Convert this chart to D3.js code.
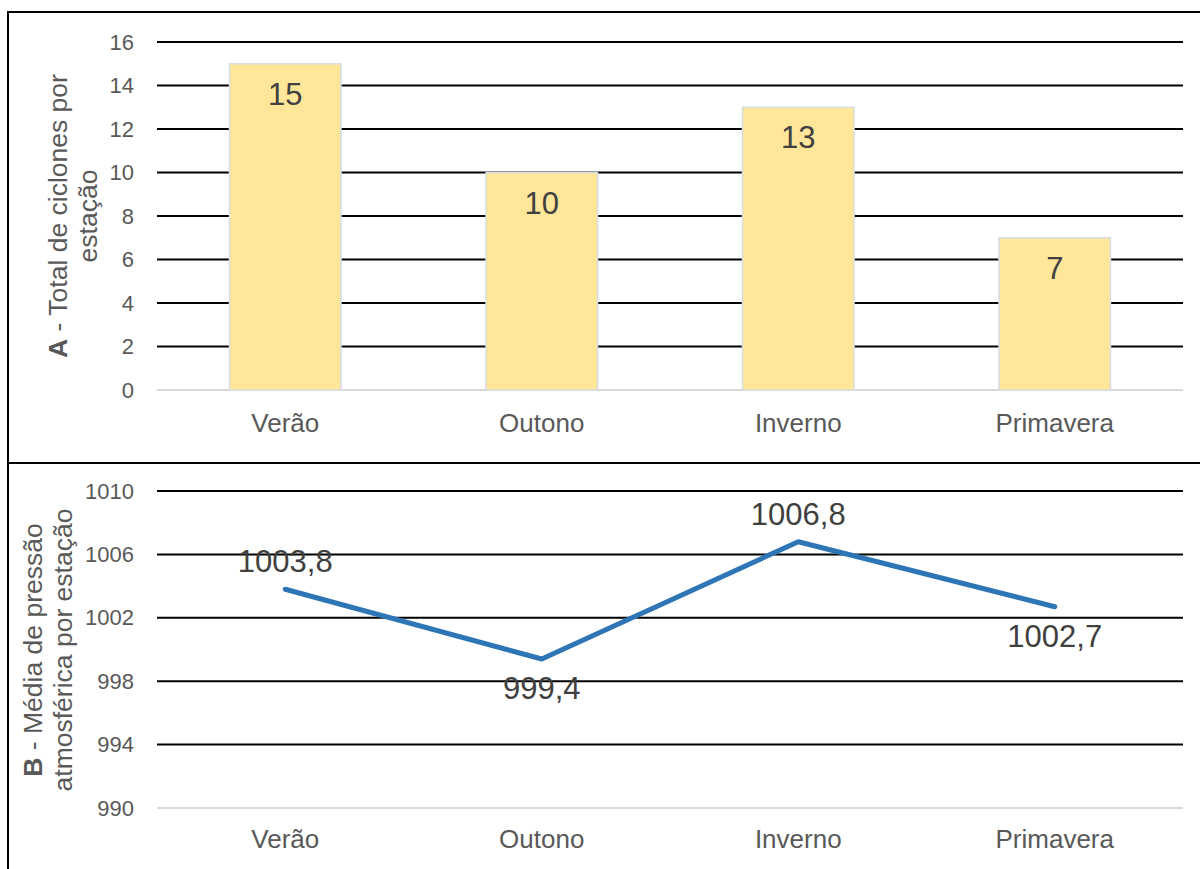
<!DOCTYPE html>
<html>
<head>
<meta charset="utf-8">
<script src="https://cdn.jsdelivr.net/npm/d3@7"></script>
<style>
  html, body { margin: 0; padding: 0; background: #fff; }
  svg { display: block; font-family: "Liberation Sans", Arial, sans-serif; }
</style>
</head>
<body>
<svg id="chart" width="1200" height="869"></svg>
<script>
const categories = ["Verão", "Outono", "Inverno", "Primavera"];
const cycloneCounts = [15, 10, 13, 7];
const meanPressure = [1003.8, 999.4, 1006.8, 1002.7];
const countTicks = [0, 2, 4, 6, 8, 10, 12, 14, 16];
const pressureTicks = [990, 994, 998, 1002, 1006, 1010];
const titleA = ["A", " - Total de ciclones por", "estação"];
const titleB = ["B", " - Média de pressão", "atmosférica por estação"];

const svg = d3.select("#chart");
const fmt = v => d3.format(".1f")(v).replace(".", ",");

const x = d3.scaleBand().domain(categories).range([157, 1183]).padding(0);
const yA = d3.scaleLinear().domain([0, 16]).range([390, 42]);
const yB = d3.scaleLinear().domain([990, 1010]).range([808, 491]);

// frame
svg.append("line").attr("x1", 7).attr("x2", 1200).attr("y1", 12).attr("y2", 12)
  .attr("stroke", "#000").attr("stroke-width", 2);
svg.append("line").attr("x1", 8).attr("x2", 8).attr("y1", 11).attr("y2", 869)
  .attr("stroke", "#000").attr("stroke-width", 2);
svg.append("line").attr("x1", 7).attr("x2", 1200).attr("y1", 463).attr("y2", 463)
  .attr("stroke", "#000").attr("stroke-width", 2);

function grid(g, y, ticks, base) {
  g.selectAll("line.grid").data(ticks).join("line")
    .attr("x1", x.range()[0]).attr("x2", x.range()[1])
    .attr("y1", d => y(d)).attr("y2", d => y(d))
    .attr("stroke", d => d === base ? "#D9D9D9" : "#000")
    .attr("stroke-width", 2);
}

function yTicks(g, y, ticks) {
  g.selectAll("text.tick").data(ticks).join("text")
    .attr("x", 134).attr("y", d => y(d))
    .attr("text-anchor", "end").attr("dominant-baseline", "central")
    .attr("font-size", 22).attr("fill", "#595959")
    .text(d => d);
}

function xLabels(g, yBase) {
  g.selectAll("text.cat").data(categories).join("text")
    .attr("x", d => x(d) + x.bandwidth() / 2).attr("y", yBase)
    .attr("text-anchor", "middle").attr("font-size", 26).attr("fill", "#595959")
    .text(d => d);
}

function axisTitle(g, cx, cy, parts) {
  const t = g.append("text").attr("transform", `translate(${cx},${cy}) rotate(-90)`)
    .attr("text-anchor", "middle").attr("font-size", 26.5).attr("fill", "#595959");
  const l1 = t.append("tspan").attr("x", 0).attr("dy", 0);
  l1.append("tspan").attr("font-weight", "bold").text(parts[0]);
  l1.append("tspan").text(parts[1]);
  t.append("tspan").attr("x", 0).attr("dy", 30).text(parts[2]);
}

// ---- Panel A ----
const gA = svg.append("g");
grid(gA, yA, countTicks, 0);
yTicks(gA, yA, countTicks);
const bw = x.bandwidth() / 2.3;
gA.selectAll("rect.bar").data(categories).join("rect")
  .attr("x", d => x(d) + x.bandwidth() / 2 - bw / 2)
  .attr("y", (d, i) => yA(cycloneCounts[i]))
  .attr("width", bw)
  .attr("height", (d, i) => yA(0) - yA(cycloneCounts[i]))
  .attr("fill", "#FFE699").attr("stroke", "#D6DCE5").attr("stroke-width", 1.5);
gA.selectAll("text.val").data(categories).join("text")
  .attr("x", d => x(d) + x.bandwidth() / 2)
  .attr("y", (d, i) => yA(cycloneCounts[i]) + 41)
  .attr("text-anchor", "middle").attr("font-size", 31).attr("fill", "#404040")
  .text((d, i) => cycloneCounts[i]);
xLabels(gA, 432);
axisTitle(gA, 67, 216, titleA);

// ---- Panel B ----
const gB = svg.append("g");
grid(gB, yB, pressureTicks, 990);
yTicks(gB, yB, pressureTicks);
const line = d3.line()
  .x((d, i) => x(categories[i]) + x.bandwidth() / 2)
  .y(d => yB(d));
gB.append("path").datum(meanPressure).attr("d", line)
  .attr("fill", "none").attr("stroke", "#2E75B6").attr("stroke-width", 5)
  .attr("stroke-linecap", "round").attr("stroke-linejoin", "round");
gB.selectAll("text.val").data(meanPressure).join("text")
  .attr("x", (d, i) => x(categories[i]) + x.bandwidth() / 2)
  .attr("y", (d, i) => (i > 0 && d < meanPressure[i - 1]) ? yB(d) + 40 : yB(d) - 17)
  .attr("text-anchor", "middle").attr("font-size", 31).attr("fill", "#404040")
  .text(d => fmt(d));
xLabels(gB, 848);
axisTitle(gB, 42, 650, titleB);
</script>
</body>
</html>
